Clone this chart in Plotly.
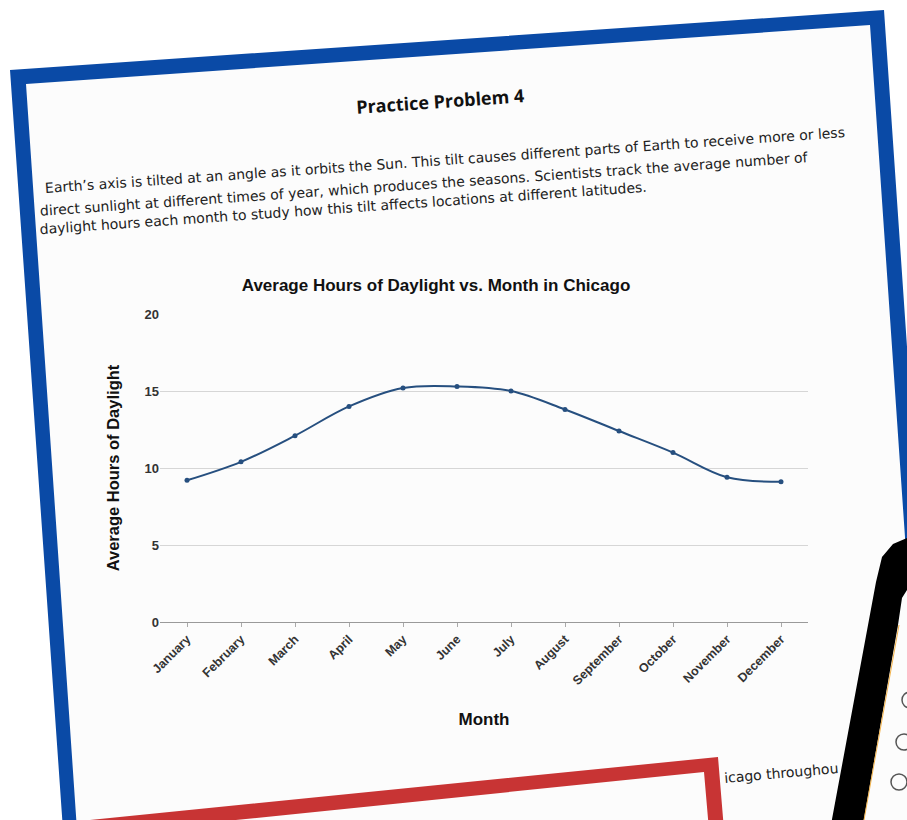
import plotly.graph_objects as go

# ---------------- data ----------------
months = ["January", "February", "March", "April", "May", "June", "July",
          "August", "September", "October", "November", "December"]
daylight_hours = [9.2, 10.4, 12.1, 14.0, 15.2, 15.3, 15.0, 13.8, 12.4, 11.0, 9.4, 9.1]
y_ticks = [0, 5, 10, 15, 20]

chart_title = "Average Hours of Daylight vs. Month in Chicago"
x_title = "Month"
y_title = "Average Hours of Daylight"
page_heading = "Practice Problem 4"
paragraph_lines = [
    "Earth’s axis is tilted at an angle as it orbits the Sun. This tilt causes different parts of Earth to receive more or less",
    "direct sunlight at different times of year, which produces the seasons. Scientists track the average number of",
    "daylight hours each month to study how this tilt affects locations at different latitudes.",
]
cut_text = "icago throughou"

# ---------------- layout helpers ----------------
W, H = 907, 820
L, R, T, B = 160, 808, 314, 622   # plot area in pixels


def px(x):
    return (x - L) / (R - L)


def py(y):
    return (B - y) / (B - T)


def poly(points):
    s = "M " + " L ".join(f"{px(x):.5f},{py(y):.5f}" for x, y in points)
    return s + " Z"


FONT = "Arial, Liberation Sans, sans-serif"
PAGE_FONT = "DejaVu Sans, Open Sans, sans-serif"
HEAD_FONT = "Open Sans, Lato, sans-serif"
BLUE = "#0a4aa6"
LINE = "#264f7f"

fig = go.Figure()
fig.add_trace(go.Scatter(
    x=months, y=daylight_hours, mode="lines+markers",
    line=dict(shape="spline", color=LINE, width=2),
    marker=dict(size=5, color=LINE),
    showlegend=False, hoverinfo="x+y",
))

shapes = []
# page fill
shapes.append(dict(type="path", xref="paper", yref="paper", layer="below",
                   path=poly([(26, 84), (870, 25), (925, 830), (77, 830)]),
                   fillcolor="#fcfcfc", line=dict(width=0)))
# blue frame (outer minus inner)
shapes.append(dict(type="path", xref="paper", yref="paper", layer="below",
                   path=poly([(10, 70), (884, 10), (940, 830), (63, 830)]) + " " +
                   poly([(26, 84), (870, 25), (925, 830), (77, 830)]),
                   fillrule="evenodd", fillcolor=BLUE, line=dict(width=0)))
# red frame at the bottom
shapes.append(dict(type="path", xref="paper", yref="paper", layer="above",
                   path=poly([(70, 822), (718, 757), (724, 830), (709, 830), (704, 772), (70, 837)]),
                   fillcolor="#c83434", line=dict(width=0)))
# black phone band on the right
shapes.append(dict(type="path", xref="paper", yref="paper", layer="above",
                   path=poly([(907, 538), (893, 544), (882, 557), (876, 582), (830, 830),
                              (862, 830), (898, 625), (902, 598), (907, 590)]),
                   fillcolor="#000000", line=dict(width=0)))
shapes.append(dict(type="line", xref="paper", yref="paper", layer="above",
                   x0=px(899), y0=py(625), x1=px(864), y1=py(820),
                   line=dict(color="#f2b24a", width=1)))
for cx, cy in [(910, 700), (904, 742), (899, 782)]:
    shapes.append(dict(type="circle", xref="paper", yref="paper", layer="above",
                       x0=px(cx - 8), x1=px(cx + 8), y0=py(cy + 8), y1=py(cy - 8),
                       line=dict(color="#555555", width=1.5), fillcolor="rgba(0,0,0,0)"))

annotations = []
annotations.append(dict(text=f"<b>{page_heading}</b>", x=px(440), y=py(101),
                        xref="paper", yref="paper", showarrow=False, textangle=-4,
                        font=dict(family=HEAD_FONT, size=18, color="#111111"),
                        xanchor="center", yanchor="middle"))
for (cx, cy), line in zip([(445, 160), (424, 184), (343, 208)], paragraph_lines):
    annotations.append(dict(text=line, x=px(cx), y=py(cy), xref="paper", yref="paper",
                            showarrow=False, textangle=-4,
                            font=dict(family=PAGE_FONT, size=14, color="#222222"),
                            xanchor="center", yanchor="middle"))
annotations.append(dict(text=cut_text, x=px(781), y=py(773), xref="paper", yref="paper",
                        showarrow=False, textangle=-5,
                        font=dict(family=PAGE_FONT, size=14, color="#222222"),
                        xanchor="center", yanchor="middle"))

fig.update_layout(
    width=W, height=H,
    margin=dict(l=L, r=W - R, t=T, b=H - B, autoexpand=False),
    paper_bgcolor="#ffffff",
    plot_bgcolor="rgba(0,0,0,0)",
    title=dict(text=f"<b>{chart_title}</b>", x=436 / W, y=1 - 285 / H,
               xref="container", yref="container", xanchor="center", yanchor="middle",
               font=dict(family=FONT, size=17, color="#111111")),
    xaxis=dict(
        type="category", range=[-0.5, 11.5],
        showgrid=False, showline=True, linecolor="#9a9a9a", linewidth=1,
        ticks="outside", ticklen=4, tickcolor="#aaaaaa",
        tickangle=-45,
        tickfont=dict(family=FONT, size=12.5, color="#333333", weight="bold"),
        title=dict(text=f"<b>{x_title}</b>", standoff=26,
                   font=dict(family=FONT, size=17, color="#111111")),
        fixedrange=True,
    ),
    yaxis=dict(
        range=[0, 20], tickvals=y_ticks,
        showgrid=True, gridcolor="#d6d6d6", gridwidth=1,
        zeroline=False, showline=False, ticks="",
        tickfont=dict(family=FONT, size=13, color="#333333", weight="bold"),
        title=dict(text=f"<b>{y_title}</b>", standoff=20,
                   font=dict(family=FONT, size=16.5, color="#111111")),
        fixedrange=True,
    ),
    shapes=shapes,
    annotations=annotations,
)

fig.write_html("out.html")
